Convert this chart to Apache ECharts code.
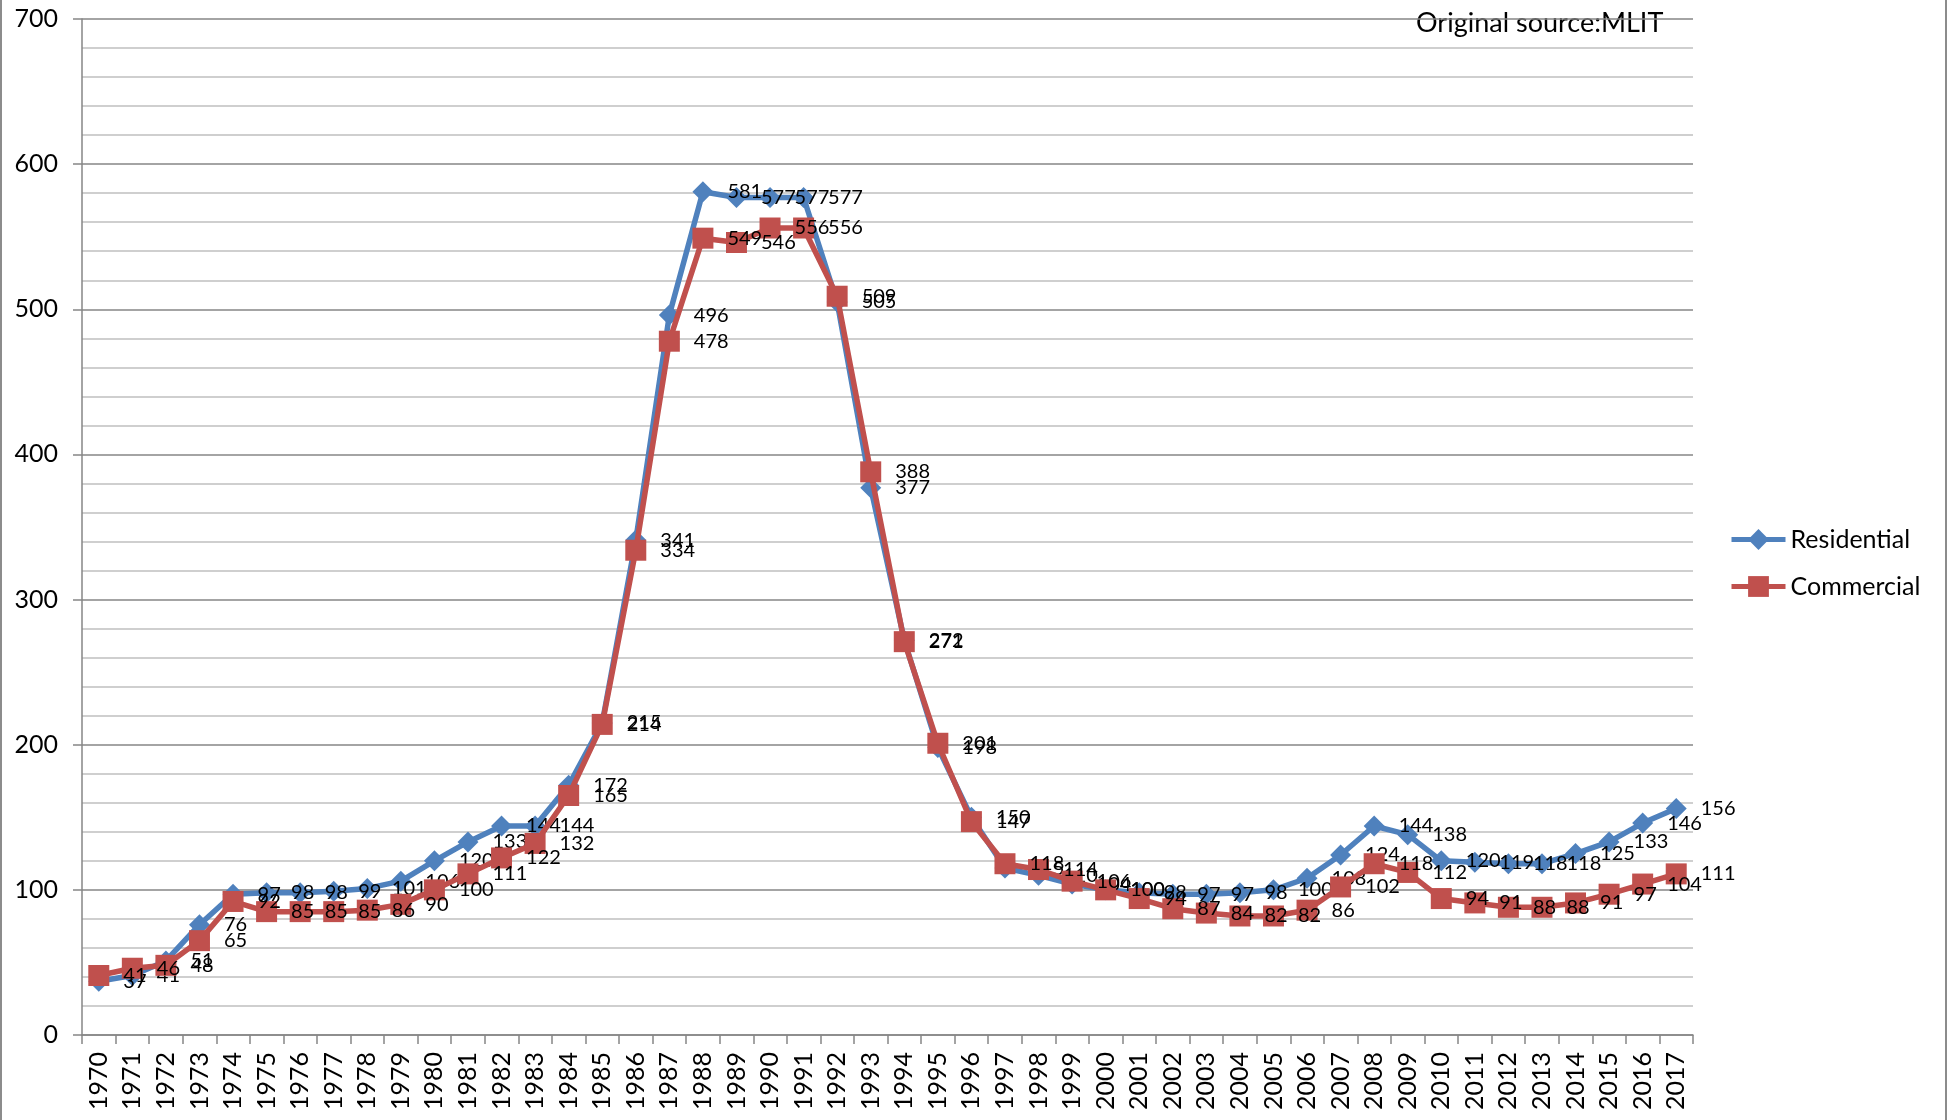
<!DOCTYPE html>
<html>
<head>
<meta charset="utf-8">
<title>Land price index</title>
<script src="https://cdn.jsdelivr.net/npm/echarts@6/dist/echarts.min.js"></script>
<style>
  html, body { margin: 0; padding: 0; background: #fff; }
  #main { width: 1952px; height: 1120px; }
</style>
</head>
<body>
<div id="main"></div>
<script>
// 年份（横轴）
const years = []
for (let y = 1970; y <= 2017; y++) years.push(String(y))

// 住宅地
const residential = [37, 41, 51, 76, 97, 98, 98, 99, 101, 106, 120, 133, 144, 144, 172, 215,
  341, 496, 581, 577, 577, 577, 505, 377, 272, 198, 150, 115, 110, 104, 100, 98,
  97, 97, 98, 100, 108, 124, 144, 138, 120, 119, 118, 118, 125, 133, 146, 156]

// 商業地
const commercial = [41, 46, 48, 65, 92, 85, 85, 85, 86, 90, 100, 111, 122, 132, 165, 214,
  334, 478, 549, 546, 556, 556, 509, 388, 271, 201, 147, 118, 114, 106, 100, 94,
  87, 84, 82, 82, 86, 102, 118, 112, 94, 91, 88, 88, 91, 97, 104, 111]

const seriesNames = ['Residential', 'Commercial']
const sourceNote = 'Original source:MLIT'

const font = 'Lato, "Open Sans", sans-serif'
const gray = '#868686'

var myChart = echarts.init(document.getElementById('main'))

var option = {
  animation: false,
  backgroundColor: '#fff',
  textStyle: { fontFamily: font },
  grid: { left: 82, right: 259, top: 19, bottom: 85 },
  legend: {
    orient: 'vertical',
    left: 1724,
    top: 522,
    itemWidth: 54,
    itemHeight: 26,
    itemGap: 22,
    lineStyle: { width: 5 },
    textStyle: { fontSize: 25, color: '#000', fontFamily: font },
    data: seriesNames,
  },
  xAxis: {
    type: 'category',
    data: years,
    boundaryGap: true,
    axisLine: { lineStyle: { color: gray, width: 1.5 } },
    axisTick: { show: true, length: 9, lineStyle: { color: gray, width: 1.5 } },
    axisLabel: { rotate: 90, interval: 0, margin: 17, fontSize: 25, color: '#000', fontFamily: font },
    splitLine: { show: false },
  },
  yAxis: {
    type: 'value',
    min: 0,
    max: 700,
    interval: 100,
    axisLine: { show: true, lineStyle: { color: gray, width: 1.5 } },
    axisTick: { show: true, inside: false, length: 9, lineStyle: { color: gray, width: 1.5 } },
    axisLabel: { margin: 24, fontSize: 25, color: '#000', fontFamily: font },
    splitLine: { show: true, lineStyle: { color: gray, width: 1.5 } },
    minorTick: { show: false, splitNumber: 5 },
    minorSplitLine: { show: true, lineStyle: { color: '#c0c0c0', width: 1.5 } },
  },
  series: [
    {
      name: seriesNames[0],
      type: 'line',
      data: residential,
      symbol: 'diamond',
      symbolSize: 21,
      lineStyle: { color: '#4F81BD', width: 5.5 },
      itemStyle: { color: '#4F81BD' },
      label: { show: true, position: 'right', distance: 14, fontSize: 20, color: '#000', fontFamily: font },
      z: 2,
    },
    {
      name: seriesNames[1],
      type: 'line',
      data: commercial,
      symbol: 'rect',
      symbolSize: 21,
      lineStyle: { color: '#C0504D', width: 5.5 },
      itemStyle: { color: '#C0504D' },
      label: { show: true, position: 'right', distance: 14, fontSize: 20, color: '#000', fontFamily: font },
      z: 3,
    },
  ],
  graphic: [
    {
      type: 'text',
      left: 1416,
      top: 10,
      style: { text: sourceNote, fontSize: 27, fill: '#000', fontFamily: font },
    },
    // 外框
    { type: 'line', shape: { x1: 1, y1: 0, x2: 1, y2: 1120 }, style: { stroke: '#8c8c8c', lineWidth: 2 } },
    { type: 'line', shape: { x1: 1946, y1: 0, x2: 1946, y2: 1120 }, style: { stroke: '#8c8c8c', lineWidth: 2 } },
  ],
}

myChart.setOption(option)
</script>
</body>
</html>
